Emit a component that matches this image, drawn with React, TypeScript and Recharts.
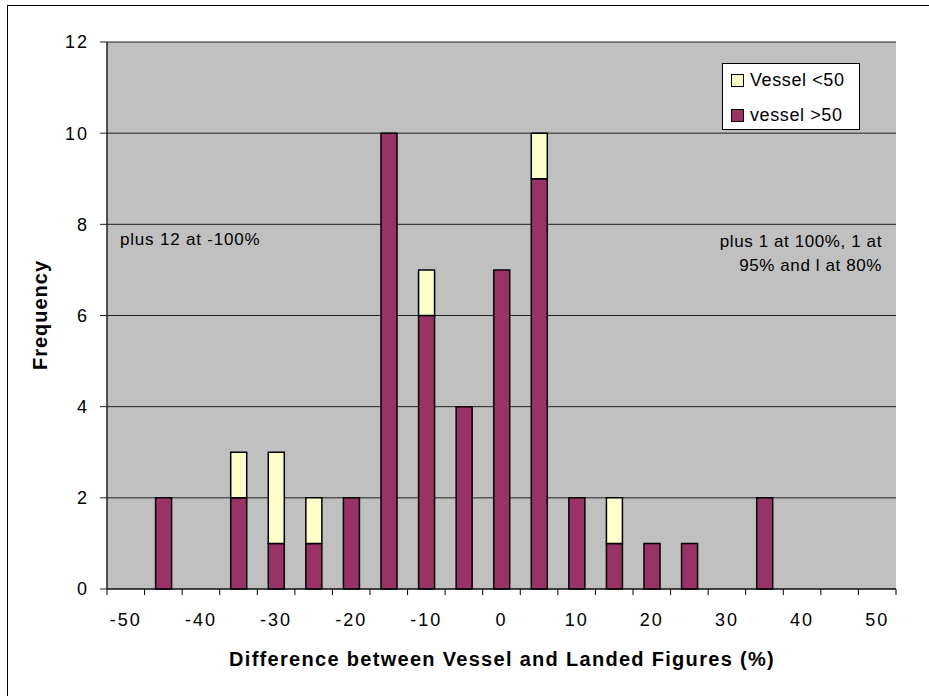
import {
  BarChart,
  Bar,
  XAxis,
  YAxis,
  CartesianGrid,
} from "recharts";

// histogram bins (% difference), one category per 5%
const bins = [-50, -45, -40, -35, -30, -25, -20, -15, -10, -5, 0, 5, 10, 15, 20, 25, 30, 35, 40, 45, 50];
const vesselOver50 = [0, 2, 0, 2, 1, 1, 2, 10, 6, 4, 7, 9, 2, 1, 1, 1, 0, 2, 0, 0, 0];
const vesselUnder50 = [0, 0, 0, 1, 2, 1, 0, 0, 1, 0, 0, 1, 0, 1, 0, 0, 0, 0, 0, 0, 0];
const yTicks = [0, 2, 4, 6, 8, 10, 12];

const data = bins.map((bin, i) => ({
  bin,
  big: vesselOver50[i] || null,
  small: vesselUnder50[i] || null,
}));

const W = 929;
const H = 696;
const LEFT = 107;
const RIGHT = 896;
const TOP = 42;
const BOTTOM = 589;
const BAND = (RIGHT - LEFT) / bins.length;
const FONT = '"Liberation Sans", Arial, sans-serif';

const XTick = (props: any) => {
  const { x, y, index, payload } = props;
  const half = BAND / 2;
  return (
    <g>
      <line x1={x - half} x2={x - half} y1={y} y2={y + 6} stroke="#000" />
      {index === bins.length - 1 && (
        <line x1={x + half} x2={x + half} y1={y} y2={y + 6} stroke="#000" />
      )}
      {index % 2 === 0 && (
        <text x={x} y={y + 37} textAnchor="middle" fontSize={18} letterSpacing={2} fill="#000" fontFamily={FONT}>
          {payload.value}
        </text>
      )}
    </g>
  );
};

const textStyle = { fontFamily: FONT, color: "#000", position: "absolute" as const, whiteSpace: "nowrap" as const };

export default function App() {
  return (
    <div style={{ position: "absolute", left: 0, top: 0, width: W, height: H, background: "#fff", overflow: "hidden", fontFamily: FONT }}>
      <div style={{ position: "absolute", left: 7, top: 5, width: W, height: H, border: "1px solid #000" }} />
      <BarChart
        width={W}
        height={H}
        data={data}
        margin={{ top: TOP, right: W - RIGHT, bottom: H - BOTTOM - 30, left: 0 }}
        barSize={16}
      >
        <CartesianGrid vertical={false} fill="#C0C0C0" stroke="#222" />
        <XAxis
          dataKey="bin"
          interval={0}
          height={30}
          tickSize={0}
          tickMargin={0}
          tickLine={false}
          axisLine={{ stroke: "#000" }}
          tick={<XTick />}
        />
        <YAxis
          width={LEFT}
          domain={[0, 12]}
          ticks={yTicks}
          interval={0}
          tickSize={7}
          tickMargin={11}
          axisLine={{ stroke: "#222", strokeWidth: 1.5 }}
          tickLine={{ stroke: "#222" }}
          tick={{ fontSize: 18, fill: "#000", fontFamily: FONT, letterSpacing: 2 }}
        />
        <YAxis
          yAxisId="r"
          orientation="right"
          width={0}
          domain={[0, 12]}
          tick={false}
          tickLine={false}
          axisLine={{ stroke: "#909090", strokeWidth: 2 }}
        />
        <Bar dataKey="big" stackId="a" fill="#993366" stroke="#000" strokeWidth={1.5} isAnimationActive={false} />
        <Bar dataKey="small" stackId="a" fill="#FFFFCC" stroke="#000" strokeWidth={1.5} isAnimationActive={false} />
      </BarChart>

      {/* axis titles */}
      <div style={{ ...textStyle, left: 502, top: 648, transform: "translateX(-50%)", fontSize: 20, fontWeight: "bold", letterSpacing: 1.3 }}>
        Difference between Vessel and Landed Figures (%)
      </div>
      <div
        style={{
          ...textStyle,
          left: 40,
          top: 315,
          fontSize: 20,
          fontWeight: "bold",
          letterSpacing: 1,
          transform: "translate(-50%, -50%) rotate(-90deg)",
        }}
      >
        Frequency
      </div>

      {/* notes */}
      <div style={{ ...textStyle, left: 120, top: 230, fontSize: 17, letterSpacing: 0.8 }}>plus 12 at -100%</div>
      <div style={{ ...textStyle, right: W - 882, top: 230, fontSize: 17, letterSpacing: 0.6, textAlign: "right", lineHeight: "24px" }}>
        plus 1 at 100%, 1 at
        <br />
        95% and l at 80%
      </div>

      {/* legend */}
      <div
        style={{
          position: "absolute",
          left: 722,
          top: 63,
          width: 138,
          height: 67,
          background: "#fff",
          border: "1px solid #000",
          boxSizing: "border-box",
        }}
      >
        {[
          { name: "Vessel <50", color: "#FFFFCC" },
          { name: "vessel >50", color: "#993366" },
        ].map((item, i) => (
          <div key={item.name} style={{ position: "absolute", left: 8, top: 5 + i * 35, height: 22, display: "flex", alignItems: "center" }}>
            <span style={{ width: 11, height: 11, background: item.color, border: "1px solid #000", marginRight: 6 }} />
            <span style={{ fontSize: 18, letterSpacing: 0.6 }}>{item.name}</span>
          </div>
        ))}
      </div>
    </div>
  );
}
